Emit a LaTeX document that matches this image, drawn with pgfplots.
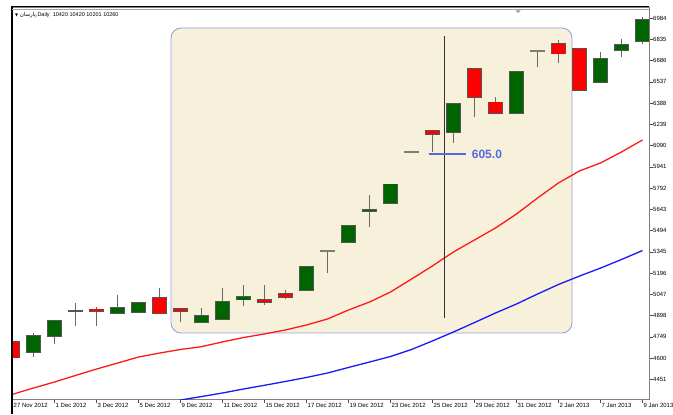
\documentclass[border=0pt]{standalone}
\usepackage{fontspec}
\setmainfont{Liberation Sans}
\newfontfamily\arabicfont[Script=Arabic]{DejaVu Sans}
\newfontfamily\dejavu{DejaVu Sans}
\TeXXeTstate=1
\usepackage{pgfplots}
\pgfplotsset{compat=1.18}
\definecolor{bull}{RGB}{0,100,0}
\definecolor{bear}{RGB}{255,0,0}
\definecolor{wick}{RGB}{85,85,85}
\definecolor{wickline}{RGB}{105,105,100}
\definecolor{doji}{RGB}{125,125,115}
\definecolor{beige}{RGB}{247,240,219}
\definecolor{boxborder}{RGB}{150,158,230}
\definecolor{annoblue}{RGB}{85,105,230}
\definecolor{maRed}{RGB}{255,25,25}
\definecolor{maBlue}{RGB}{25,25,245}
\pgfplotsset{
  bars/.style={draw=none, mark=none, forget plot,
    error bars/.cd, y dir=plus, y explicit, error mark=none,
    error bar style={#1}},
}
\begin{document}
\begin{tikzpicture}
\begin{axis}[
  set layers,
  scale only axis, width=637pt, height=392pt,
  xmin=-0.024, xmax=30.31, ymin=4312.9, ymax=7061.6,
  xtick={0,2,4,6,8,10,12,14,16,18,20,22,24,26,28,30},
  xticklabels={27 Nov 2012,1 Dec 2012,3 Dec 2012,5 Dec 2012,9 Dec 2012,11 Dec 2012,15 Dec 2012,17 Dec 2012,19 Dec 2012,23 Dec 2012,25 Dec 2012,29 Dec 2012,31 Dec 2012,2 Jan 2013,7 Jan 2013,9 Jan 2013},
  ytick={4451,4600,4749,4898,5047,5196,5345,5494,5643,5792,5941,6090,6239,6388,6537,6686,6835,6984},
  yticklabels={4451,4600,4749,4898,5047,5196,5345,5494,5643,5792,5941,6090,6239,6388,6537,6686,6835,6984},
  ytick pos=right, yticklabel pos=right, xtick pos=bottom,
  tick align=outside, major tick length=3.5pt,
  tick style={gray!60!black, line width=0.6pt},
  axis line style={gray, line width=0.9pt},
  ticklabel style={font=\fontsize{6}{7}\selectfont, inner sep=0.5pt},
  xticklabel style={anchor=north west, xshift=0.5pt},
  yticklabel style={anchor=west},
]
\begin{pgfonlayer}{axis background}
\draw[fill=beige, draw=boxborder, line width=0.9pt, rounded corners=10pt] (axis cs:7.548,4775.7) rectangle (axis cs:26.643,6914.3);
\end{pgfonlayer}
% wicks: (bar, low) += (0, high - low)
\addplot[bars={draw=wickline, line width=1pt}] coordinates {
(1,4609.5) += (0,168.3) (2,4698.5) += (0,168.3) (3,4824.7) += (0,163.4) (4,4826.8) += (0,131.2)
(5,4913.8) += (0,128.3) (6,4918.0) += (0,77.1) (7,4906.8) += (0,186.5) (8,4854.9) += (0,96.1)
(9,4850.7) += (0,98.2) (10,4873.8) += (0,219.5) (11,4967.1) += (0,143.0) (12,4972.0) += (0,138.1)
(13,5012.0) += (0,65.2) (15,5194.3) += (0,158.7) (17,5521.0) += (0,220.2) (20,6044.8) += (0,145.2)
(21,6110.0) += (0,273.5) (22,6292.4) += (0,332.3) (23,6318.3) += (0,114.3) (25,6638.7) += (0,112.3)
(26,6666.8) += (0,163.4) (28,6535.7) += (0,212.4) (29,6708.9) += (0,126.2) (30,6800.1) += (0,189.2)};
% body outlines: (bar, body bottom) += (0, body height)
\addplot[bars={draw=wick, line width=15pt, line cap=butt, shorten <=-0.8pt, shorten >=-0.8pt}] coordinates {
(0,4602.5) += (0,112.2) (1,4640.3) += (0,114.3) (2,4756.7) += (0,105.2) (3,4929.0) += (0,2.0)
(4,4929.9) += (0,11.9) (5,4918.0) += (0,30.9) (6,4920.8) += (0,67.3) (7,4918.0) += (0,105.2)
(8,4932.0) += (0,14.0) (9,4850.7) += (0,44.2) (10,4873.8) += (0,121.3) (11,5009.2) += (0,18.9)
(12,4993.0) += (0,16.2) (13,5030.2) += (0,18.9) (14,5077.2) += (0,163.4)
(16,5411.6) += (0,116.4) (17,5630.0) += (0,7.0) (18,5685.1) += (0,133.2)
(20,6168.9) += (0,21.1) (21,6185.1) += (0,198.4) (22,6430.5) += (0,194.2) (23,6318.3) += (0,75.0)
(24,6318.3) += (0,285.4) (26,6734.1) += (0,70.1) (27,6479.6) += (0,289.6)
(28,6535.7) += (0,161.3) (29,6760.0) += (0,35.1) (30,6823.2) += (0,147.2)};
% doji bars (open = close)
\addplot[bars={draw=doji, line width=15pt, line cap=butt, shorten <=-0.8pt, shorten >=-0.8pt}] coordinates {
(15,5352.0) += (0,1.0) (19,6046.5) += (0,1.0) (25,6750.5) += (0,1.0)};
% bullish bodies
\addplot[bars={draw=bull, line width=13.4pt, line cap=butt}] coordinates {
(1,4640.3) += (0,114.3) (2,4756.7) += (0,105.2) (5,4918.0) += (0,30.9) (6,4920.8) += (0,67.3)
(9,4850.7) += (0,44.2) (10,4873.8) += (0,121.3) (11,5009.2) += (0,18.9) (14,5077.2) += (0,163.4)
(16,5411.6) += (0,116.4) (17,5630.0) += (0,7.0) (18,5685.1) += (0,133.2) (21,6185.1) += (0,198.4)
(24,6318.3) += (0,285.4) (28,6535.7) += (0,161.3) (29,6760.0) += (0,35.1) (30,6823.2) += (0,147.2)};
% bearish bodies
\addplot[bars={draw=bear, line width=13.4pt, line cap=butt}] coordinates {
(0,4602.5) += (0,112.2) (4,4929.9) += (0,11.9) (7,4918.0) += (0,105.2) (8,4932.0) += (0,14.0)
(12,4993.0) += (0,16.2) (13,5030.2) += (0,18.9) (20,6168.9) += (0,21.1) (22,6430.5) += (0,194.2)
(23,6318.3) += (0,75.0) (26,6734.1) += (0,70.1) (27,6479.6) += (0,289.6)};
% moving averages
\addplot[maRed, line width=1.3pt, mark=none] coordinates {
(0,4345.8) (1,4390) (2,4432) (3,4478) (4,4523) (5,4565) (6,4607) (7,4635) (8,4660) (9,4680)
(10,4713) (11,4744) (12,4769) (13,4797) (14,4832) (15,4874) (16,4937) (17,4993) (18,5063) (19,5154)
(20,5246) (21,5344) (22,5428) (23,5512) (24,5610) (25,5722) (26,5828) (27,5912) (28,5968) (29,6045) (30,6129)};
\addplot[maBlue, line width=1.3pt, mark=none] coordinates {
(8,4306) (9,4330) (10,4355) (11,4383) (12,4409) (13,4436) (14,4464) (15,4495) (16,4534) (17,4572)
(18,4611) (19,4660) (20,4720) (21,4783) (22,4849) (23,4916) (24,4979) (25,5049) (26,5116) (27,5175)
(28,5231) (29,5291) (30,5354)};
% annotations
\draw[gray!40!black, line width=0.8pt] (axis cs:20.548,4880.8) -- (axis cs:20.548,6860.3);
\draw[annoblue, line width=1.6pt] (axis cs:19.83,6030.7) -- (axis cs:21.6,6030.7)
  node[anchor=west, inner sep=0pt, xshift=5pt, font=\bfseries\fontsize{12}{12}\selectfont, text=annoblue] {605.0};
\end{axis}
\draw[black, line width=2pt] ([yshift=-15pt]current axis.south west) -- ([yshift=1pt]current axis.north west);
\draw[black, line width=1.1pt] ([yshift=0.5pt]current axis.north west) -- ([yshift=0.5pt]current axis.north east);
\draw[gray!70, line width=0.8pt] ([yshift=-2.5pt]current axis.north west) -- ([yshift=-2.5pt]current axis.north east);
\fill[gray!80] ([xshift=503.5pt,yshift=-3.5pt]current axis.north west) -- ([xshift=508.5pt,yshift=-3.5pt]current axis.north west) -- ([xshift=506pt,yshift=-6pt]current axis.north west) -- cycle;
\node[anchor=west, inner sep=0pt, font=\fontsize{5.5}{6.6}\selectfont] at ([xshift=3pt,yshift=-8.5pt]current axis.north west)
  {{\dejavu\fontsize{4}{5}\selectfont ▼}\ {\arabicfont\beginR پارسان\endR},Daily\ \ 10420 10420 10201 10260};
\pgfresetboundingbox
\useasboundingbox ([shift={(-12pt,-15pt)}]current axis.south west) rectangle ([shift={(24pt,7pt)}]current axis.north east);
\end{tikzpicture}
\end{document}
